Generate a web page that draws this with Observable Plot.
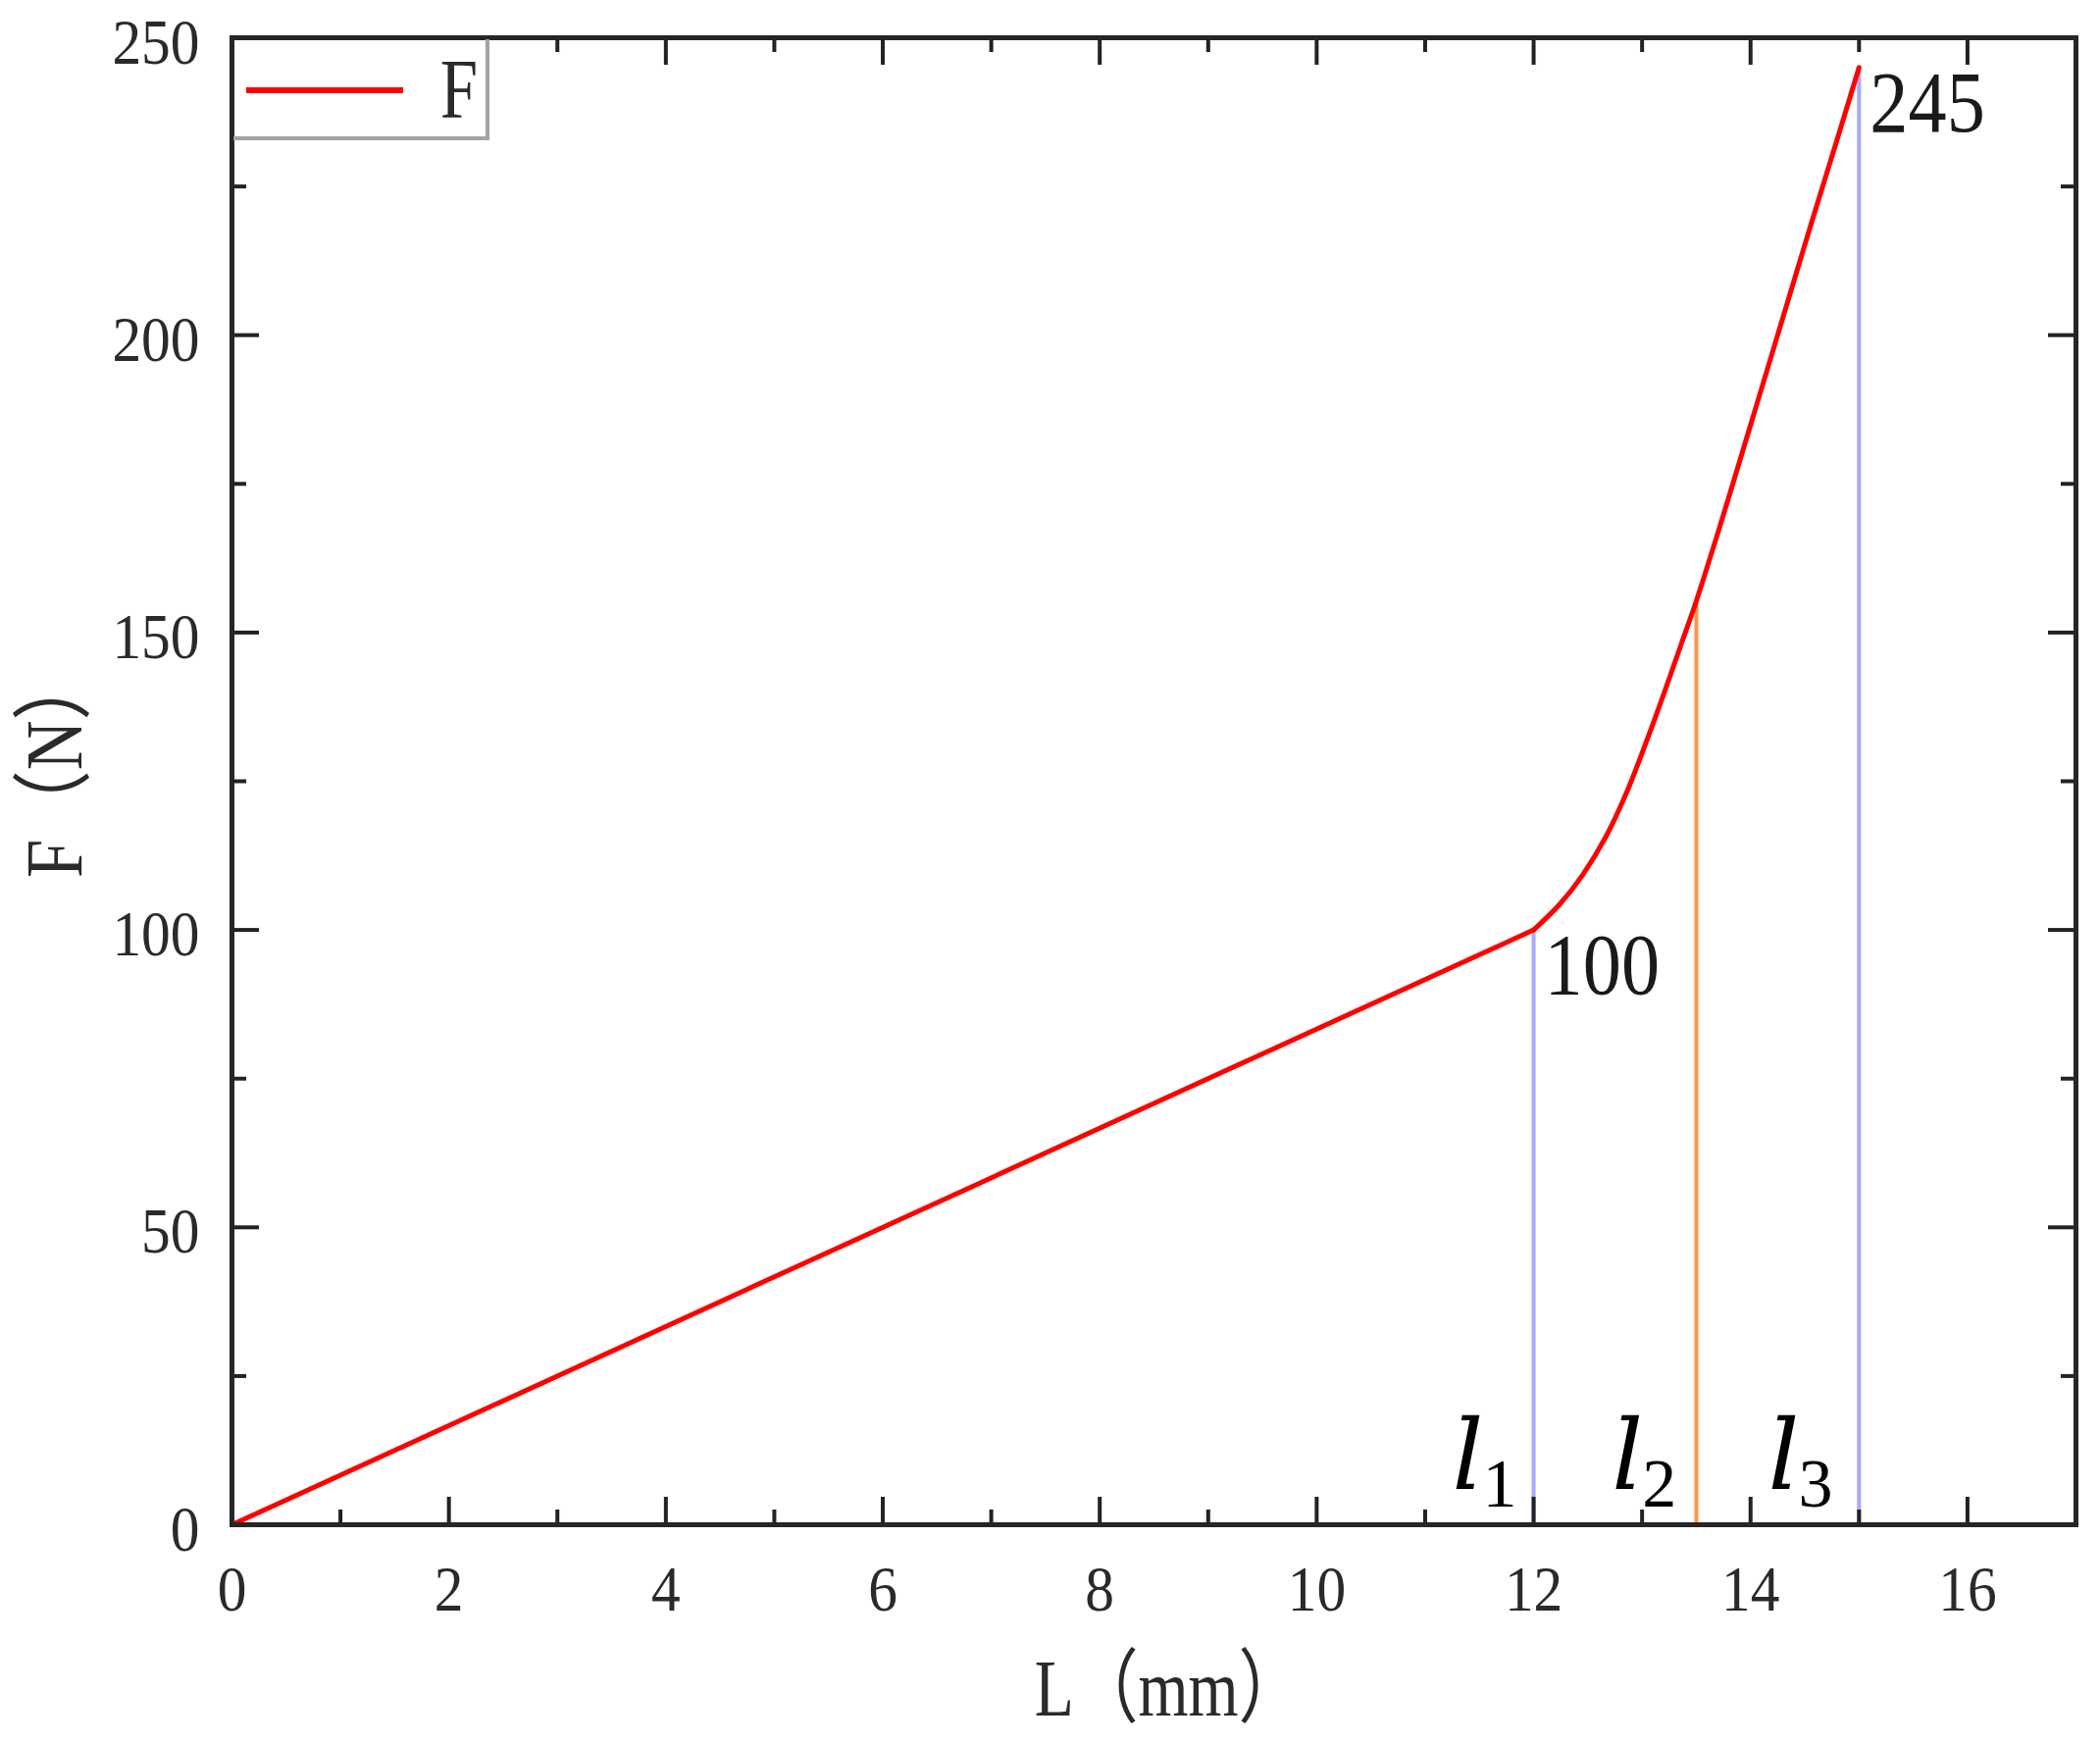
<!DOCTYPE html>
<html>
<head>
<meta charset="utf-8">
<script src="https://cdn.jsdelivr.net/npm/d3@7"></script>
<script src="https://cdn.jsdelivr.net/npm/@observablehq/plot@0.6"></script>
<style>
html, body { margin: 0; padding: 0; background: #fff; }
#chart { width: 2141px; height: 1776px; }
</style>
</head>
<body>
<div id="chart"></div>
<script>
// ---- data ----
const lengthMM = [0, 12, 12.24, 12.45, 12.67, 12.85, 13.03, 13.21, 13.36, 13.5, 13.66, 13.81, 13.99, 14.2, 14.35, 14.56, 14.81, 15];
const forceN   = [0, 100, 104.3, 109.2, 115.8, 122.8, 131.2, 140.2, 148.0, 155.3, 164.5, 173.4, 184.3, 197.0, 206.1, 218.8, 233.6, 245];

const xMajor = [0, 2, 4, 6, 8, 10, 12, 14, 16];
const xMinor = [1, 3, 5, 7, 9, 11, 13, 15];
const yMajor = [0, 50, 100, 150, 200, 250];
const yMinor = [25, 75, 125, 175, 225];

const guideX = [12, 13.5, 15];
const guideTop = [100, 155, 245];
const guideColor = ["#a8a8ff", "#ff9447", "#a8a8ff"];

const peakX = [12, 15];
const peakF = [100, 245];
const peakText = ["100", "245"];

const segX = [11.25, 12.72, 14.16];
const segSub = ["1", "2", "3"];

const xTitle = "L（mm）";
const yTitle = "F（N）";
const seriesName = "F";

// ---- layout ----
const W = 2141, H = 1776;
const mL = 236, mR = 25, mT = 38, mB = 222;
const fw = W - mL - mR, fh = H - mT - mB;
const tickColor = "#222";
const serif = "'Liberation Serif', 'Times New Roman', 'Noto Sans CJK SC', serif";

const pts = lengthMM.map((l, i) => ({l, f: forceN[i]}));
const linearPart = pts.filter(d => d.l <= 12);
const curvedPart = pts.filter(d => d.l >= 12);
const guides = guideX.map((x, i) => ({x, top: guideTop[i], c: guideColor[i]}));
const peaks = peakX.map((x, i) => ({x, f: peakF[i], t: peakText[i]}));
const segs = segX.map((x, i) => ({x, s: segSub[i]}));

const chart = Plot.plot({
  width: W, height: H,
  marginLeft: mL, marginRight: mR, marginTop: mT, marginBottom: mB,
  style: {fontFamily: serif, background: "#fff", color: "#222"},
  x: {domain: [0, 17]},
  y: {domain: [0, 250]},
  color: {type: "identity"},
  marks: [
    Plot.ruleX(guides, {x: "x", y1: 0, y2: "top", stroke: "c", strokeWidth: 4}),
    Plot.line(linearPart, {x: "l", y: "f", stroke: "#ff0000", strokeWidth: 5}),
    Plot.line(curvedPart, {x: "l", y: "f", stroke: "#ff0000", strokeWidth: 5, curve: "catmull-rom"}),
    Plot.text(peaks, {x: "x", y: "f", text: "t", textAnchor: "start", lineAnchor: "bottom",
      dx: 11, dy: 65, fontSize: 88, fill: "#1a1a1a"}),
    Plot.text(segs, {x: "x", text: () => "l", frameAnchor: "bottom", textAnchor: "start", lineAnchor: "bottom",
      dy: -37, fontSize: 100, fontFamily: "'DejaVu Serif', serif", fontStyle: "italic", fill: "#000"}),
    Plot.text(segs, {x: "x", text: "s", frameAnchor: "bottom", textAnchor: "start", lineAnchor: "bottom",
      dx: 31, dy: -19, fontSize: 70, fill: "#000"}),
    // inward ticks on all four sides
    Plot.ruleX(xMajor, {insetTop: fh - 28, stroke: tickColor, strokeWidth: 4}),
    Plot.ruleX(xMinor, {insetTop: fh - 15, stroke: tickColor, strokeWidth: 4}),
    Plot.ruleX(xMajor, {insetBottom: fh - 28, stroke: tickColor, strokeWidth: 4}),
    Plot.ruleX(xMinor, {insetBottom: fh - 15, stroke: tickColor, strokeWidth: 4}),
    Plot.ruleY(yMajor, {insetRight: fw - 28, stroke: tickColor, strokeWidth: 4}),
    Plot.ruleY(yMinor, {insetRight: fw - 15, stroke: tickColor, strokeWidth: 4}),
    Plot.ruleY(yMajor, {insetLeft: fw - 28, stroke: tickColor, strokeWidth: 4}),
    Plot.ruleY(yMinor, {insetLeft: fw - 15, stroke: tickColor, strokeWidth: 4}),
    Plot.axisX({ticks: xMajor, anchor: "bottom", tickSize: 0, tickPadding: 41, fontSize: 66,
      tickFormat: d => String(d), label: null, fill: "#2a2a2a"}),
    Plot.axisY({ticks: yMajor, anchor: "left", tickSize: 0, tickPadding: 33, fontSize: 66,
      tickFormat: d => String(d), label: null, dy: 5, fill: "#2a2a2a"}),
    Plot.text([xTitle], {frameAnchor: "bottom", textAnchor: "middle", lineAnchor: "bottom",
      dy: 194, dx: 15, fontSize: 82, fill: "#2a2a2a"}),
    Plot.text([yTitle], {frameAnchor: "left", textAnchor: "middle", lineAnchor: "bottom", rotate: -90,
      dx: -154, dy: -17, fontSize: 82, fill: "#2a2a2a"}),
    Plot.frame({stroke: "#262626", strokeWidth: 5})
  ]
});

document.getElementById("chart").appendChild(chart);

// condense serif glyphs horizontally to mimic the narrow original font
function squeezeText(t, s) {
  const tr = t.getAttribute("transform");
  if (tr && tr.includes("translate")) t.setAttribute("transform", tr + ` scale(${s},1)`);
}
chart.querySelectorAll("text").forEach(t => {
  const txt = t.textContent;
  const inAxis = t.closest('g[aria-label$="tick label"]');
  if (inAxis) squeezeText(t, 0.9);
  else if (peakText.includes(txt)) squeezeText(t, 0.89);
  else if (txt === xTitle) squeezeText(t, 0.8);
  else if (txt === yTitle) squeezeText(t, 0.86);
});

// legend inside the top-left corner of the frame
const svg = d3.select(chart);
const lg = svg.append("g").attr("aria-label", "legend");
lg.append("rect").attr("x", 239).attr("y", 41).attr("width", 258).attr("height", 100).attr("fill", "#fff");
lg.append("path").attr("d", "M497,40 V141 H238").attr("fill", "none").attr("stroke", "#a3a3a3").attr("stroke-width", 4);
lg.append("line").attr("x1", 251).attr("x2", 411).attr("y1", 92).attr("y2", 92)
  .attr("stroke", "#ff0000").attr("stroke-width", 6);
lg.append("text").attr("transform", "translate(468,120) scale(0.8,1)")
  .attr("font-size", 86).attr("font-family", serif).attr("fill", "#2a2a2a").text(seriesName);
</script>
</body>
</html>
